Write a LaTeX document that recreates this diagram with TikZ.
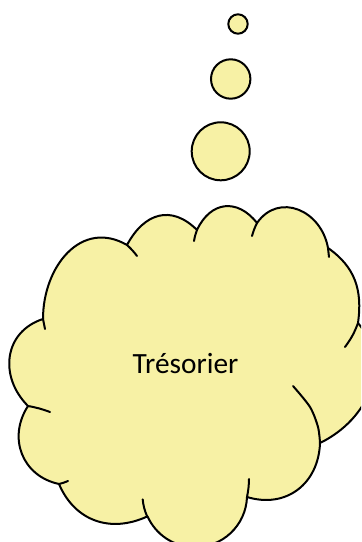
\documentclass[tikz,border=0pt]{standalone}
\usepackage{fontspec}
\setmainfont{Carlito}
\definecolor{cloudyellow}{RGB}{247,241,165}
\usetikzlibrary{positioning}

\begin{document}
\begin{tikzpicture}[
  x=0.75pt, y=0.75pt,
  every node/.style={font=\fontsize{22}{26}\selectfont},
  cloudline/.style={draw=black,line width=1.5pt,line join=round,fill=cloudyellow},
  tailline/.style={draw=black,line width=1.5pt,line cap=round},
  bubble/.style={draw=black,line width=1.5pt,fill=cloudyellow},
]
  \useasboundingbox (0,0) rectangle (361,542);
  \clip (0,0) rectangle (361,542);

  % Thought bubbles
  \draw[bubble] (238,518) circle[radius=9.7];
  \draw[bubble] (230.7,463) circle[radius=19.7];
  \draw[bubble] (220.7,390.7) circle[radius=29];

  % Cloud outline (lobes from left, clockwise)
  \path[cloudline]
    (28,136) to[out=135,in=198,looseness=1.2] (43,223)
    to[out=90,in=150,looseness=1.2] (127,297)
    to[out=62,in=135,looseness=1.3] (197,312)
    to[out=65,in=128,looseness=1.35] (257,319)
    to[out=55,in=100,looseness=1.3] (328,294)
    to[out=-35,in=82,looseness=1.05] (358,219)
    to[out=-50,in=26,looseness=1.1] (320,99)
    to[out=268,in=-17,looseness=1.15] (247,45)
    arc[start angle=-2,end angle=-156,radius=52]
    to[out=205,in=-67,looseness=1.1] (59,58)
    to[out=168,in=237,looseness=1.15] (28,136)
    -- cycle;

  % Inner tails of the lobes
  \draw[tailline] (43,223) -- (45,213);
  \draw[tailline] (127,297) to[bend left=5] (137,286);
  \draw[tailline] (197,312) to[bend right=5] (194,301);
  \draw[tailline] (257,319) to[bend right=5] (252,306);
  \draw[tailline] (328,294) -- (329,285);
  \draw[tailline] (358,219) to[bend left=8] (345,195);
  \draw[tailline] plot[smooth] coordinates {(320,99) (318,115) (310,135) (293,156)};
  \draw[tailline] (247,45) to[bend right=5] (249,63);
  \draw[tailline] (147,26) arc[start angle=-156,end angle=-175,radius=52];
  \draw[tailline] (59,58) to[bend right=5] (68,61);
  \draw[tailline] (28,136) to[bend left=5] (50,130);

  % Label
  \node[anchor=base] (tresorier) at (185.5,168.7) {Trésorier};
\end{tikzpicture}
\end{document}
